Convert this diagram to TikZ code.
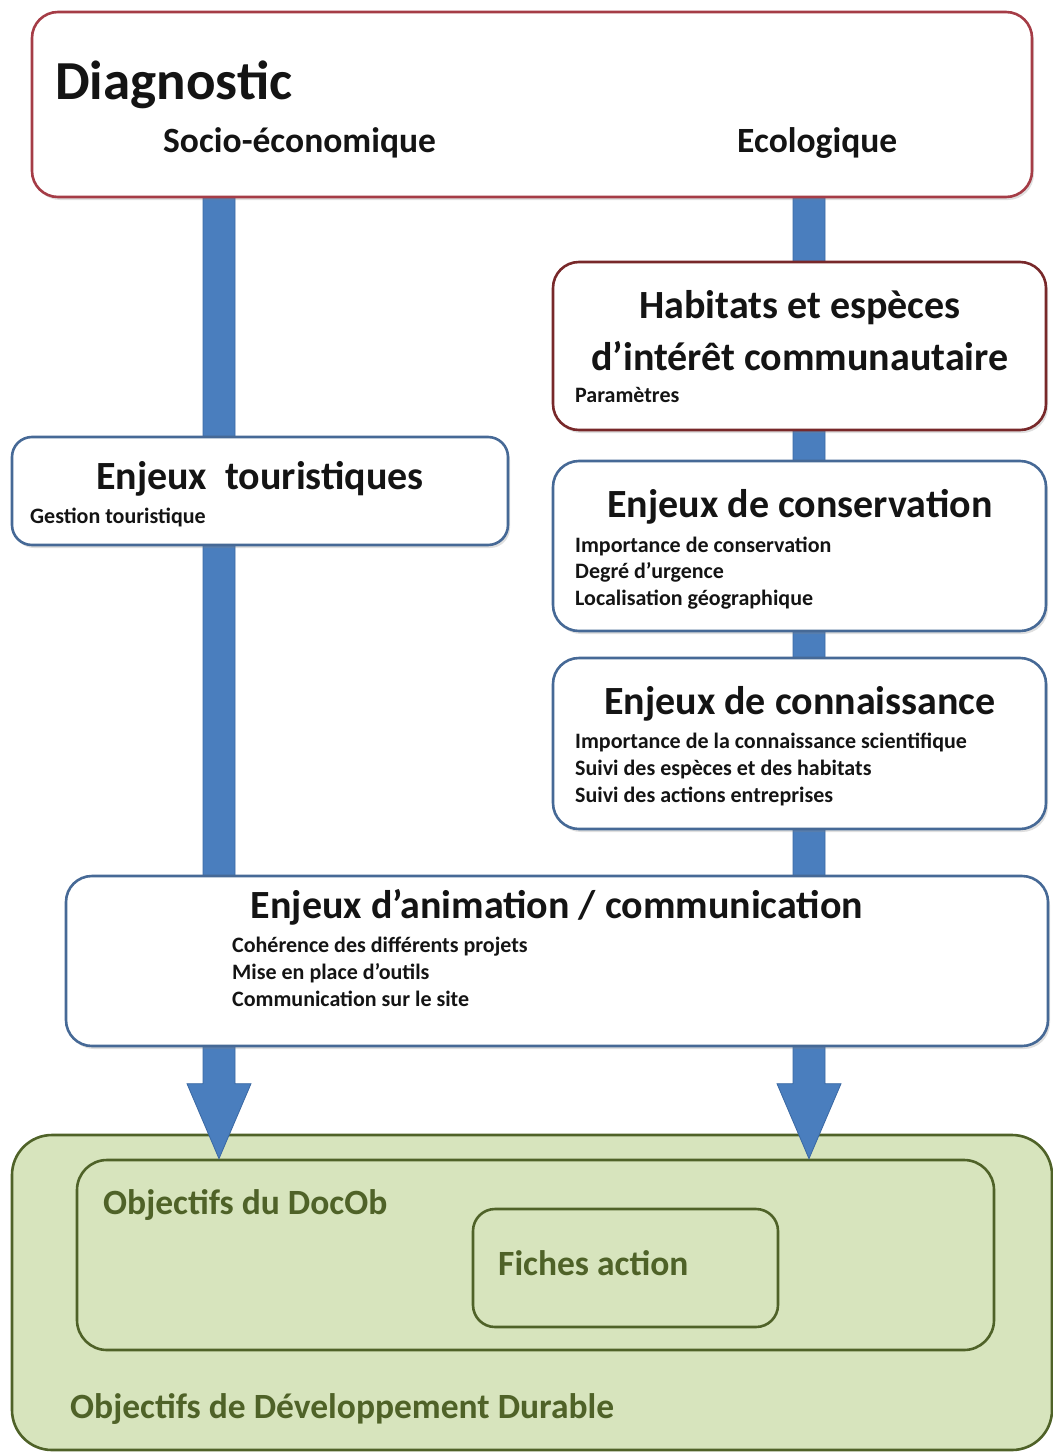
\documentclass[tikz,border=0pt]{standalone}
\usepackage{fontspec}
\setmainfont{Carlito}
\usetikzlibrary{calc,shadows}
\definecolor{diagred}{RGB}{165,60,70}
\definecolor{habred}{RGB}{120,40,42}
\definecolor{boxblue}{RGB}{70,105,150}
\definecolor{arrowblue}{RGB}{74,126,190}
\definecolor{arrowedge}{RGB}{58,104,163}
\definecolor{greenfill}{RGB}{215,228,189}
\definecolor{olive}{RGB}{79,98,40}
\definecolor{textgray}{RGB}{20,20,20}
\pgfdeclarelayer{bg}
\pgfdeclarelayer{arr}
\pgfsetlayers{bg,arr,main}
\tikzset{
  whitebox/.style={rectangle, fill=white, line width=2.6pt, rounded corners=26pt, inner sep=0pt,
    drop shadow={shadow xshift=2pt, shadow yshift=-3pt, opacity=0.25}},
  redbox/.style={whitebox, draw=diagred},
  hbox/.style={whitebox, draw=habred},
  bluebox/.style={whitebox, draw=boxblue},
  greenbox/.style={rectangle, fill=greenfill, draw=olive, line width=2.6pt, inner sep=0pt},
  bigtitle/.style={inner sep=0pt, text=textgray, font=\bfseries\fontsize{55}{60}\selectfont},
  subtitle/.style={inner sep=0pt, text=textgray, font=\bfseries\fontsize{35.5}{40}\selectfont},
  boxtitle/.style={inner sep=0pt, text=textgray, font=\bfseries\fontsize{40}{45}\selectfont},
  smalltext/.style={inner sep=0pt, anchor=base west, text=textgray, font=\bfseries\fontsize{22}{25}\selectfont},
  greentext/.style={inner sep=0pt, anchor=base west, text=olive, font=\bfseries\fontsize{35.5}{40}\selectfont},
  bluearrow/.style={fill=arrowblue, draw=arrowedge, line width=0.8pt}
}
\begin{document}
\begin{tikzpicture}[x=1pt,y=-1pt]
\useasboundingbox (0,0) rectangle (1052,1453);

% white boxes (main layer)
\node[redbox, minimum width=1000pt, minimum height=185pt] (diag) at (532,104.5) {};
\node[hbox, minimum width=493pt, minimum height=168pt] (hab) at (799.5,346) {};
\node[bluebox, minimum width=496pt, minimum height=108pt, rounded corners=20pt] (tour) at (260,491) {};
\node[bluebox, minimum width=493pt, minimum height=170pt] (cons) at (799.5,546) {};
\node[bluebox, minimum width=493pt, minimum height=171pt] (conn) at (799.5,743.5) {};
\node[bluebox, minimum width=982pt, minimum height=170pt] (anim) at (557,961) {};

% texts
\node[bigtitle, anchor=base west] (tdiag) at (55,100) {Diagnostic};
\node[subtitle, anchor=base west] (tsocio) at (163,152) {Socio-économique};
\node[subtitle, anchor=base west] (teco) at (737,152) {Ecologique};

\node[boxtitle, anchor=base] (thab1) at (800,318) {Habitats et espèces};
\node[boxtitle, anchor=base] (thab2) at (800,370) {d’intérêt communautaire};
\node[smalltext] (shab) at (575,402) {Paramètres};

\node[boxtitle, anchor=base] (ttour) at (260,489) {Enjeux\ \ touristiques};
\node[smalltext] (stour) at (30,523) {Gestion touristique};

\node[boxtitle, anchor=base] (tcons) at (800,517) {Enjeux de conservation};
\node[smalltext] (scons1) at (575,552) {Importance de conservation};
\node[smalltext] (scons2) at (575,578) {Degré d’urgence};
\node[smalltext] (scons3) at (575,605) {Localisation géographique};

\node[boxtitle, anchor=base] (tconn) at (800,714) {Enjeux de connaissance};
\node[smalltext] (sconn1) at (575,748) {Importance de la connaissance scientifique};
\node[smalltext] (sconn2) at (575,775) {Suivi des espèces et des habitats};
\node[smalltext] (sconn3) at (575,802) {Suivi des actions entreprises};

\node[boxtitle, anchor=base] (tanim) at (557,918) {Enjeux d’animation / communication};
\node[smalltext] (sanim1) at (232,952) {Cohérence des différents projets};
\node[smalltext] (sanim2) at (232,979) {Mise en place d’outils};
\node[smalltext] (sanim3) at (232,1006) {Communication sur le site};

% green boxes (background layer)
\begin{pgfonlayer}{bg}
\node[greenbox, minimum width=1040pt, minimum height=315pt, rounded corners=40pt] (odd) at (532,1292.5) {};
\node[greenbox, minimum width=917pt, minimum height=190pt, rounded corners=30pt] (docob) at (535.5,1255) {};
\node[greenbox, minimum width=305pt, minimum height=118pt, rounded corners=22pt] (fiches) at (625.5,1268) {};
\end{pgfonlayer}
\node[greentext] (tdocob) at (103,1214) {Objectifs du DocOb};
\node[greentext] (tfiches) at (498,1275) {Fiches action};
\node[greentext] (todd) at (70,1418) {Objectifs de Développement Durable};

% arrows (between layers)
\coordinate (lx) at (219,0);
\coordinate (rx) at (809,0);
\begin{pgfonlayer}{arr}
\coordinate (ls) at (diag.south -| lx);
\coordinate (lt) at (docob.north -| lx);
\coordinate (rs) at (diag.south -| rx);
\coordinate (rt) at (docob.north -| rx);
\draw[bluearrow] ($(ls)+(-16,-8)$) -- ($(lt)+(-16,-75)$) -- ($(lt)+(-32,-75)$) -- (lt)
  -- ($(lt)+(32,-75)$) -- ($(lt)+(16,-75)$) -- ($(ls)+(16,-8)$) -- cycle;
\draw[bluearrow] ($(rs)+(-16,-8)$) -- ($(rt)+(-16,-75)$) -- ($(rt)+(-32,-75)$) -- (rt)
  -- ($(rt)+(32,-75)$) -- ($(rt)+(16,-75)$) -- ($(rs)+(16,-8)$) -- cycle;
\end{pgfonlayer}
\end{tikzpicture}
\end{document}
